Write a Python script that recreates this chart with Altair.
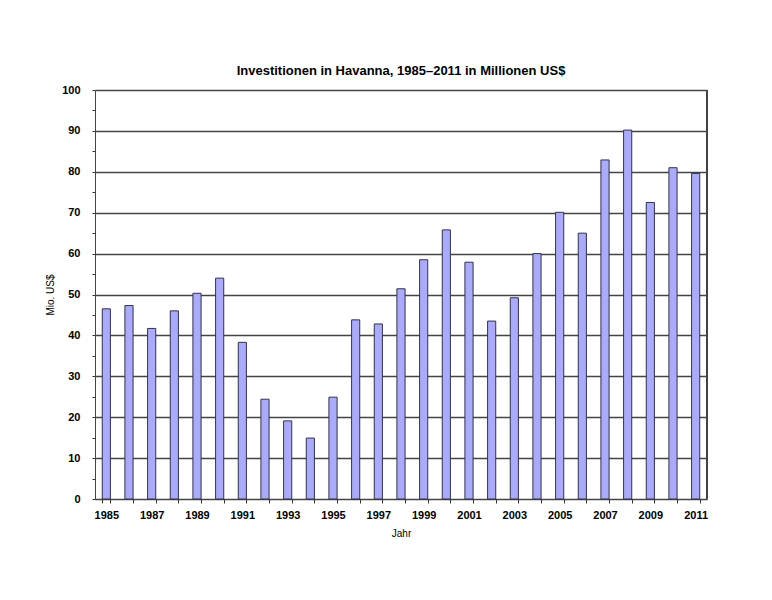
import altair as alt
import pandas as pd

years = list(range(1985, 2012))
values = [46.5, 47.3, 41.7, 46.0, 50.3, 54.0, 38.3, 24.4, 19.1, 14.9, 24.9,
          43.8, 42.8, 51.4, 58.5, 65.8, 57.9, 43.5, 49.2, 60.0, 70.1, 65.0,
          82.9, 90.2, 72.5, 81.0, 79.6]
y_ticks = list(range(0, 101, 5))

df = pd.DataFrame({"Jahr": years, "Wert": values})

FONT = "Liberation Sans"
W, H = 612, 409

bars = alt.Chart(df).mark_bar(
    color="#aaaaff", stroke="#333344", strokeWidth=1
).encode(
    x=alt.X("Jahr:O", title="Jahr",
            scale=alt.Scale(paddingInner=0.64, paddingOuter=0.32),
            axis=alt.Axis(labelAngle=0, tickBand="extent",
                          labelExpr="datum.value % 2 == 1 ? datum.label : ''",
                          labelFont=FONT, labelFontWeight="bold", labelFontSize=11,
                          labelColor="#000", tickColor="#333", tickSize=4,
                          domainColor="#444", labelPadding=6,
                          titleFont=FONT, titleFontWeight="normal", titleFontSize=10,
                          titleColor="#000", titlePadding=8)),
    y=alt.Y("Wert:Q", title="Mio. US$",
            scale=alt.Scale(domain=[0, 100], nice=False),
            axis=alt.Axis(values=y_ticks,
                          labelExpr="datum.value % 10 == 0 ? datum.label : ''",
                          grid=True,
                          gridColor={"condition": {"test": "datum.value % 10 === 0", "value": "#444444"}, "value": "transparent"},
                          gridWidth=1.3,
                          labelFont=FONT, labelFontWeight="bold", labelFontSize=11,
                          labelColor="#000", tickColor="#333", tickSize=3,
                          domainColor="#444", labelPadding=12,
                          titleFont=FONT, titleFontWeight="normal", titleFontSize=10,
                          titleColor="#000", titlePadding=6)),
)

border = alt.Chart(df).mark_rule(color="#444444", strokeWidth=1.3).encode(
    x=alt.value(W), y=alt.value(0), y2=alt.value(H)
)

chart = alt.layer(bars, border).properties(
    width=W, height=H,
    title=alt.TitleParams("Investitionen in Havanna, 1985–2011 in Millionen US$",
                          font=FONT, fontSize=13, fontWeight="bold", color="#000",
                          anchor="middle", offset=6),
    autosize=alt.AutoSizeParams(type="none"),
    padding={"left": 87, "top": 82, "right": 40, "bottom": 80},
).configure_view(
    fill="#cccccc", stroke="#444444", strokeWidth=1.3
).configure(background="white")

chart.save("out.html", embed_options={"renderer": "svg", "actions": False})
